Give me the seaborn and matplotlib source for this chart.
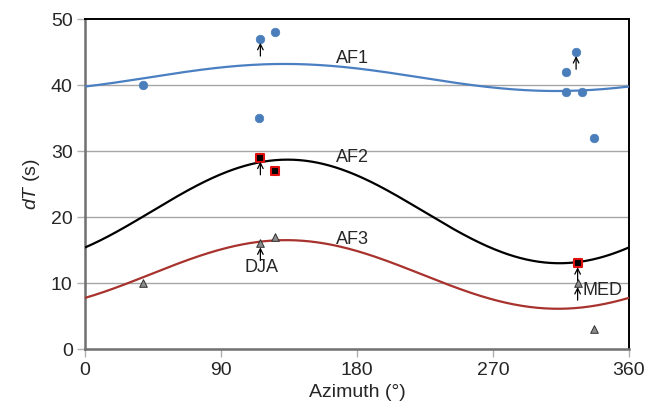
import numpy as np
import pandas as pd
import matplotlib
matplotlib.use("Agg")
import matplotlib.pyplot as plt
import seaborn as sns

af1_az = [38, 116, 126, 115, 318, 318, 325, 329, 337]
af1_dt = [40, 47, 48, 35, 42, 39, 45, 39, 32]
af2_az = [116, 126, 326]
af2_dt = [29, 27, 13]
af3_az = [38, 116, 126, 326, 337]
af3_dt = [10, 16, 17, 10, 3]

# fitted sinusoid parameters: mean, amplitude, azimuth of peak
fits = {
    "AF1": (41.15, 2.05, 132),
    "AF2": (20.85, 7.85, 134),
    "AF3": (11.3, 5.2, 133),
}
fit_colors = {"AF1": "#4a7fc1", "AF2": "black", "AF3": "#a8322d"}
label_pos = {"AF1": (177, 44.1), "AF2": (177, 29.0), "AF3": (177, 16.6)}

# points with an upward arrow underneath (lower bounds)
arrow_az = [116, 325, 116, 326, 326, 116]
arrow_dt = [47, 45, 29, 13, 10, 16]

sns.set_style("white")
plt.rcParams["font.family"] = ["Liberation Sans", "DejaVu Sans"]
plt.rcParams["mathtext.fontset"] = "custom"
plt.rcParams["mathtext.it"] = "Liberation Sans:italic"
plt.rcParams["mathtext.rm"] = "Liberation Sans"

fig = plt.figure(figsize=(6.6, 4.15), dpi=100)
ax = fig.add_axes([0.129, 0.159, 0.824, 0.795])

# fitted curves
az = np.linspace(0, 360, 361)
for name, (m, a, p) in fits.items():
    curve = pd.DataFrame({"az": az, "dt": m + a * np.cos(np.radians(az - p))})
    sns.lineplot(data=curve, x="az", y="dt", ax=ax, color=fit_colors[name], lw=1.6, zorder=3)

for y in [10, 20, 30, 40]:
    ax.axhline(y, color="#a6a6a6", lw=1.0, zorder=1)

df1 = pd.DataFrame({"az": af1_az, "dt": af1_dt})
df2 = pd.DataFrame({"az": af2_az, "dt": af2_dt})
df3 = pd.DataFrame({"az": af3_az, "dt": af3_dt})
sns.scatterplot(data=df1, x="az", y="dt", ax=ax, marker="o", s=38, color="#4a7ebb",
                edgecolor="#4a7ebb", linewidth=0.5, zorder=5)
sns.scatterplot(data=df2, x="az", y="dt", ax=ax, marker="s", s=34, color="black",
                edgecolor="#e01010", linewidth=1.5, zorder=5)
sns.scatterplot(data=df3, x="az", y="dt", ax=ax, marker="^", s=30, color="#8c8c8c",
                edgecolor="#303030", linewidth=0.7, zorder=5)

# arrows below points
for x, y in zip(arrow_az, arrow_dt):
    ax.annotate("", xy=(x, y - 0.6), xytext=(x, y - 2.6),
                arrowprops=dict(arrowstyle="->", color="black", lw=0.9,
                                shrinkA=0, shrinkB=0), zorder=6)

for name, (x, y) in label_pos.items():
    ax.text(x, y, name, fontsize=13, ha="center", va="center")
ax.text(117, 12.3, "DJA", fontsize=13, ha="center", va="center")
ax.text(329.5, 8.8, "MED", fontsize=13, ha="left", va="center")

ax.set_xlim(0, 360)
ax.set_ylim(0, 50)
ax.set_xticks([0, 90, 180, 270, 360])
ax.set_yticks([0, 10, 20, 30, 40, 50])
ax.tick_params(axis="both", labelsize=14, length=6, width=1, direction="out",
               color="#b0b0b0", left=True, bottom=True, pad=3)
ax.set_xlabel("Azimuth (°)", fontsize=14, labelpad=4)
ax.set_ylabel("$dT$ (s)", fontsize=14, labelpad=6)

ax.spines["left"].set_color("#707070")
ax.spines["left"].set_linewidth(1.8)
ax.spines["bottom"].set_color("#707070")
ax.spines["bottom"].set_linewidth(1.8)
ax.spines["top"].set_color("black")
ax.spines["top"].set_linewidth(1.4)
ax.spines["right"].set_color("black")
ax.spines["right"].set_linewidth(1.4)

fig.savefig("out.png", dpi=100)
